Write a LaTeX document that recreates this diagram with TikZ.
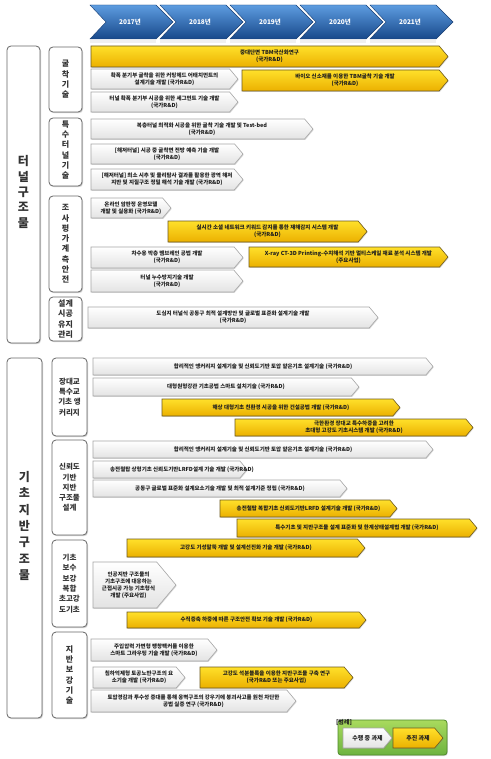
\documentclass[tikz,border=0pt]{standalone}
\usepackage{fontspec}
\setmainfont{Noto Sans CJK KR}
\usetikzlibrary{shadows,fit}
\definecolor{ybarTop}{HTML}{FFE02A}
\definecolor{ybarBot}{HTML}{EBB000}
\definecolor{ybarEdge}{HTML}{6E5A1E}
\definecolor{chevTop}{HTML}{5D9CE0}
\definecolor{chevBot}{HTML}{17488A}
\definecolor{chevEdge}{HTML}{1A3F73}
\definecolor{legTop}{HTML}{A9DA5E}
\definecolor{legBot}{HTML}{6DB33F}
\definecolor{legEdge}{HTML}{4F8A2A}
\definecolor{txtdark}{HTML}{1E1E1E}
\tikzset{
 wbar/.style={draw=gray!70, line width=0.6pt, top color=white, bottom color=gray!22,
   drop shadow={opacity=0.3, shadow xshift=0.7pt, shadow yshift=-0.9pt}},
 ybar/.style={draw=ybarEdge, line width=0.6pt, top color=ybarTop, bottom color=ybarBot,
   drop shadow={opacity=0.3, shadow xshift=0.7pt, shadow yshift=-0.9pt}},
 bartext/.style={font=\bfseries\fontsize{5.5}{7}\selectfont, text=txtdark, align=center, inner sep=0pt},
 catbox/.style={draw=black!60, line width=0.8pt, rounded corners=4pt, fill=white,
   drop shadow={opacity=0.35, shadow xshift=1pt, shadow yshift=-1.2pt}, inner sep=0pt},
 bigtext/.style={font=\bfseries\fontsize{12}{15.3}\selectfont, text=black!80, align=center, inner sep=0pt},
 bigtextb/.style={font=\bfseries\fontsize{12}{16.3}\selectfont, text=black!80, align=center, inner sep=0pt},
 subtext/.style={font=\bfseries\fontsize{8}{10.3}\selectfont, text=black!80, align=center, inner sep=0pt},
 subtextb/.style={font=\bfseries\fontsize{7.5}{10.3}\selectfont, text=black!80, align=center, inner sep=0pt},
 chev/.style={draw=chevEdge, line width=0.4pt, top color=chevTop, bottom color=chevBot},
 yeartext/.style={font=\bfseries\fontsize{6.5}{8}\selectfont, text=white, inner sep=0pt},
 legbox/.style={draw=legEdge, line width=0.8pt, rounded corners=3pt, top color=legTop, bottom color=legBot,
   drop shadow={opacity=0.3, shadow xshift=0.8pt, shadow yshift=-1pt}, inner sep=0pt},
}
% [text xshift]{name}{style}{x1}{y1}{x2}{y2}{text}
\newcommand\taskbar[8][0]{%
 \path[#3] (#4,#5) -- ({#6-0.42*(#7-#5)},#5) -- (#6,{(#5+#7)/2}) -- ({#6-0.42*(#7-#5)},#7) -- (#4,#7) -- cycle;
 \node[bartext] (#2) at ({(#4+#6)/2+#1},{(#5+#7)/2}) {#8};}
% [label yshift]{name}{x1}{y1}{x2}{y2}{text style}{text}
\newcommand\catbox[8][0]{%
 \node[catbox, fit={(#3,#4) (#5,#6)}] (#2) {};
 \node[#7] (#2t) at ({(#3+#5)/2},{(#4+#6)/2+#1}) {#8};}
\begin{document}
\begin{tikzpicture}[x=1pt,y=-1pt]
\useasboundingbox (0,0) rectangle (490,759);
\fill[white] (0,0) rectangle (490,759);
% timeline chevrons
\foreach \i/\yr in {0/2017,1/2018,2/2019,3/2020,4/2021}{
  \pgfmathsetmacro\L{90+70*\i}
  \fill[gray!12] (\L,40) rectangle ({\L+66},43);
  \path[chev] (\L,5) -- ({\L+66},5) -- ({\L+83},22) -- ({\L+66},39) -- (\L,39) -- ({\L+16},22) -- cycle;
  \node[yeartext] (y\yr) at ({\L+40},22) {\yr{}년};
}
% main categories
\catbox[-2.5]{tunnel}{7}{46}{40}{343}{bigtext}{터\\널\\구\\조\\물}
\catbox[-12]{found}{7}{358}{42}{718}{bigtextb}{기\\초\\지\\반\\구\\조\\물}
% sub categories
\catbox{s1}{49}{47}{82}{112}{subtext}{굴\\착\\기\\술}
\catbox[-2]{s2}{49}{118}{82}{186}{subtext}{특\\수\\터\\널\\기\\술}
\catbox{s3}{49}{196}{82}{292}{subtext}{조\\사\\평\\가\\계\\측\\안\\전}
\catbox{s4}{49}{297}{82}{341}{subtext}{설계\\시공\\유지\\관리}
\catbox{s5}{52}{358}{87}{436}{subtextb}{장대교\\특수교\\기초 앵\\커리지}
\catbox{s6}{52}{440}{87}{535}{subtextb}{신뢰도\\기반\\지반\\구조물\\설계}
\catbox{s7}{52}{540}{87}{627}{subtextb}{기초\\보수\\보강\\복합\\초고강\\도기초}
\catbox{s8}{52}{632}{87}{718}{subtext}{지\\반\\보\\강\\기\\술}
% 굴착기술
\taskbar{b1}{ybar}{91}{46}{448}{67}{중대단면 TBM국산화연구\\(국가R\&D)}
\taskbar{b2}{wbar}{91}{69}{238}{89}{확폭 분기부 굴착을 위한 커팅헤드 어태치먼트의\\설계기술 개발 (국가R\&D)}
\taskbar{b3}{ybar}{242}{70}{448}{91}{바이오 신소재를 이용한 TBM굴착 기술 개발\\(국가R\&D)}
\taskbar{b4}{wbar}{91}{92}{238}{112}{터널 확폭 분기부 시공을 위한 세그먼트 기술 개발\\(국가R\&D)}
% 특수터널기술
\taskbar{b5}{wbar}{91}{119}{313}{139}{복층터널 최적화 시공을 위한 굴착 기술 개발 및 Test-bed\\(국가R\&D)}
\taskbar{b6}{wbar}{91}{144}{243}{164}{[해저터널] 시공 중 굴착면 전방 예측 기술 개발\\(국가R\&D)}
\taskbar{b7}{wbar}{91}{169}{243}{190}{[해저터널] 최소 시추 및 물리탐사 결과를 활용한 광역 해저\\지반 및 지질구조 정밀 해석 기술 개발 (국가R\&D)}
% 조사평가계측안전
\taskbar{b8}{wbar}{91}{198}{171}{218}{온라인 암판정 운영모델\\개발 및 실용화 (국가R\&D)}
\taskbar{b9}{ybar}{168}{221}{367}{242}{실시간 소셜 네트워크 키워드 감지를 통한 재해감지 시스템 개발\\(국가R\&D)}
\taskbar{b10}{wbar}{91}{247}{243}{268}{차수용 박층 멤브레인 공법 개발\\(국가R\&D)}
\taskbar{b11}{ybar}{249}{247}{448}{267}{X-ray CT-3D Printing-수치해석 기반 멀티스케일 재료 분석 시스템 개발\\(주요사업)}
\taskbar{b12}{wbar}{91}{270}{243}{292}{터널 누수방지기술 개발\\(국가R\&D)}
% 설계시공유지관리
\taskbar{b13}{wbar}{88}{307}{378}{328}{도심지 터널식 공동구 최적 설계방안 및 글로벌 표준화 설계기술 개발\\(국가R\&D)}
% 장대교 특수교 기초 앵커리지
\taskbar{b14}{wbar}{93}{358}{433}{375}{합리적인 앵커리지 설계기술 및 신뢰도기반 토압 얕은기초 설계기술 (국가R\&D)}
\taskbar{b15}{wbar}{93}{378}{359}{396}{대형원형강관 기초공법 스마트 설치기술 (국가R\&D)}
\taskbar{b16}{ybar}{162}{399}{400}{416}{해상 대형기초 친환경 시공을 위한 건설공법 개발 (국가R\&D)}
\taskbar{b17}{ybar}{235}{419}{473}{436}{극한환경 장대교 특수하중을 고려한\\초대형 고강도 기초시스템 개발 (국가R\&D)}
% 신뢰도기반 지반구조물 설계
\taskbar{b18}{wbar}{93}{441}{433}{458}{합리적인 앵커리지 설계기술 및 신뢰도기반 토압 얕은기초 설계기술 (국가R\&D)}
\taskbar[12]{b19}{wbar}{93}{461}{247}{478}{송전철탑 상형기초 신뢰도기반LRFD설계 기술 개발 (국가R\&D)}
\taskbar{b20}{wbar}{93}{480}{347}{497}{공동구 글로벌 표준화 설계요소기술 개발 및 최적 설계기준 정립 (국가R\&D)}
\taskbar{b21}{ybar}{220}{500}{397}{517}{송전철탑 복합기초 신뢰도기반LRFD 설계기술 개발 (국가R\&D)}
\taskbar{b22}{ybar}{237}{519}{477}{537}{특수기초 및 지반구조물 설계 표준화 및 한계상태설계법 개발 (국가R\&D)}
% 기초 보수보강 복합 초고강도 기초
\taskbar{b23}{ybar}{127}{539}{365}{557}{고강도 기성말뚝 개발 및 설계선진화 기술 개발 (국가R\&D)}
\taskbar[-6]{b24}{wbar}{93}{562}{176}{608}{인공지반 구조물의\\기초구조에 대응하는\\근접시공 가능 기초형식\\개발 (주요사업)}
\taskbar{b25}{ybar}{127}{612}{366}{628}{수직증축 하중에 따른 구조안전 확보 기술 개발 (국가R\&D)}
% 지반보강기술
\taskbar{b26}{wbar}{91}{639}{217}{661}{주입압력 가변형 팽창팩커를 이용한\\스마트 그라우팅 기술 개발 (국가R\&D)}
\taskbar{b27}{wbar}{93}{667}{185}{688}{침하억제형 토공노반구조의 요\\소기술 개발 (국가R\&D)}
\taskbar{b28}{ybar}{200}{667}{353}{688}{고강도 석분블록을 이용한 지반구조물 구축 연구\\(국가R\&D 또는 주요사업)}
\taskbar{b29}{wbar}{91}{690}{296}{712}{토압경감과 투수성 증대를 통해 옹벽구조의 강우기에 붕괴사고를 원천 차단한\\공법 실증 연구 (국가R\&D)}
% legend
\node[legbox, fit={(338,720) (447,755)}] (legend) {};
\node[bartext, font=\bfseries\fontsize{6}{7}\selectfont] (legtitle) at (344,722) {[범례]};
\taskbar{legw}{wbar}{343}{728}{392}{748}{{\fontsize{6}{7}\selectfont 수행 중 과제}}
\taskbar{legy}{ybar}{393}{728}{443}{748}{{\fontsize{6}{7}\selectfont 추진 과제}}
\end{tikzpicture}
\end{document}
